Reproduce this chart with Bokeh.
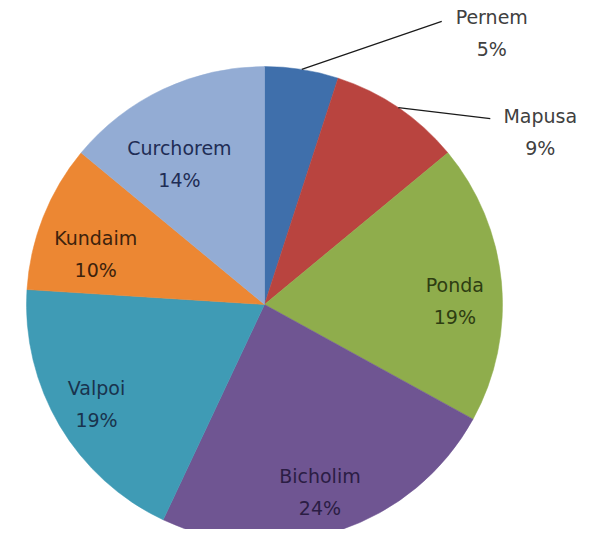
import numpy as np
from bokeh.plotting import figure
from bokeh.models import Range1d, ColumnDataSource
from bokeh.core.properties import value
from bokeh.embed import file_html
from bokeh.resources import INLINE

# ---- data ----
names = ["Pernem", "Mapusa", "Ponda", "Bicholim", "Valpoi", "Kundaim", "Curchorem"]
shares = [5, 9, 19, 24, 19, 10, 14]
colors = ["#3f6fab", "#b9443f", "#8fad4c", "#6f5592", "#3f9bb5", "#ec8733", "#93acd4"]
text_colors = ["#404040", "#404040", "#2e3d12", "#2b1d44", "#19334d", "#3d220c", "#1f2d55"]

# ---- geometry (page pixel space, y up) ----
W, H = 597, 545
FW, FH = 581, 529
cx, cy_pix, R = 264, 304, 238
cy = H - cy_pix

frac = np.array(shares, dtype=float) / np.sum(shares)
cum = np.concatenate([[0], np.cumsum(frac)])
start = np.pi / 2 - 2 * np.pi * cum[1:]
end = np.pi / 2 - 2 * np.pi * cum[:-1]
mid = (cum[:-1] + cum[1:]) / 2  # fraction clockwise from top

p = figure(width=FW, height=FH, output_backend="svg", toolbar_location=None,
           x_range=Range1d(0, FW), y_range=Range1d(H - FH, H),
           min_border=0)
p.axis.visible = False
p.grid.visible = False
p.outline_line_color = None
p.background_fill_color = "white"

src = ColumnDataSource(dict(start=start, end=end, color=colors))
p.wedge(x=cx, y=cy, radius=R, start_angle="start", end_angle="end",
        fill_color="color", line_color="color", line_width=0.5, source=src)

font = value("DejaVu Sans")
fs = "19px"

# inside labels: radius fraction and angle nudge (deg) per slice
rad_f = {2: 0.80, 3: 0.82, 4: 0.82, 5: 0.74, 6: 0.69}
ang_n = {2: 4.2, 3: 1.5, 4: 0, 5: -5, 6: -6}
for i in range(len(names)):
    if i in rad_f:
        a = np.deg2rad(360 * mid[i] + ang_n[i])
        r = R * rad_f[i]
        lx = cx + r * np.sin(a)
        ly = cy + r * np.cos(a)
    else:
        a = np.deg2rad(360 * mid[i])
        ex = cx + R * np.sin(a)
        ey = cy + R * np.cos(a)
        if i == 0:
            kx, ky = ex + 140, ey + 48
            lx, ly = kx + 50, ky - 12
        else:
            kx, ky = ex + 92, ey - 11
            lx, ly = kx + 50, ky - 13
        p.line([ex, kx], [ey, ky], line_color="#1a1a1a", line_width=1.2)
    p.text(x=[lx], y=[ly + 16], text=[names[i]], text_align="center",
           text_baseline="middle", text_font=font, text_font_size=fs,
           text_color=text_colors[i])
    p.text(x=[lx], y=[ly - 16], text=[f"{shares[i]}%"], text_align="center",
           text_baseline="middle", text_font=font, text_font_size=fs,
           text_color=text_colors[i])

open("out.html", "w").write(file_html(p, INLINE))
